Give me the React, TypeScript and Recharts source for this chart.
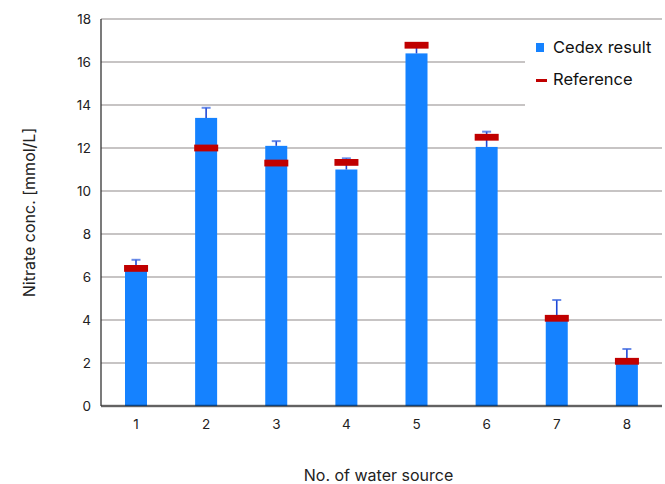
import React from 'react';
import {
  ComposedChart,
  Bar,
  Line,
  XAxis,
  YAxis,
  CartesianGrid,
  ReferenceLine,
  Legend,
} from 'recharts';

const categories = ['1', '2', '3', '4', '5', '6', '7', '8'];
const cedexResult = [6.3, 13.4, 12.1, 11.0, 16.4, 12.05, 4.0, 2.0];
const cedexErrorUp = [0.5, 0.47, 0.22, 0.52, 0.4, 0.71, 0.93, 0.65];
const referenceValues = [6.4, 12.0, 11.3, 11.33, 16.78, 12.5, 4.08, 2.08];
const yTicks = [0, 2, 4, 6, 8, 10, 12, 14, 16, 18];

const data = categories.map((c, i) => ({
  name: c,
  cedex: cedexResult[i],
  err: cedexErrorUp[i],
  ref: referenceValues[i],
}));

const FONT = 'Inter, Roboto, "Noto Sans", sans-serif';
const BLUE = '#1582FF';
const RED = '#C00000';

const BarWithError = (props: any) => {
  const { x, y, width, height, value, payload, fill } = props;
  const v = Array.isArray(value) ? value[1] - value[0] : value;
  if (!height || !v) return null;
  const pxPerUnit = height / v;
  const errTop = y - payload.err * pxPerUnit;
  const cx = x + width / 2;
  return (
    <g>
      <rect x={x} y={y} width={width} height={height} fill={fill} />
      <line x1={cx} y1={y} x2={cx} y2={errTop} stroke="#1d47d6" strokeWidth={1.6} />
      <line x1={cx - 4.5} y1={errTop} x2={cx + 4.5} y2={errTop} stroke="#3a66e0" strokeOpacity={0.75} strokeWidth={2} />
    </g>
  );
};

const RefMarker = (props: any) => {
  const { cx, cy } = props;
  if (cx == null || cy == null) return null;
  return <rect x={cx - 12} y={cy - 3.4} width={24} height={6.8} fill={RED} />;
};

const YTick = (props: any) => {
  const { x, y, payload } = props;
  return (
    <text x={x} y={y} textAnchor="end" dominantBaseline="central" fontSize={13.5} fill="#222" fontFamily={FONT}>
      {payload.value}
    </text>
  );
};

const XTick = (props: any) => {
  const { x, y, payload } = props;
  return (
    <text x={x} y={y} textAnchor="middle" dominantBaseline="hanging" fontSize={13.5} fill="#222" fontFamily={FONT}>
      {payload.value}
    </text>
  );
};

const YLabel = (props: any) => {
  const vb = props.viewBox || {};
  const cx = 29;
  const cy = (vb.y ?? 19) + (vb.height ?? 387) / 2;
  return (
    <text
      x={cx}
      y={cy}
      transform={`rotate(-90, ${cx}, ${cy})`}
      textAnchor="middle"
      dominantBaseline="central"
      fontSize={16}
      fill="#222"
      fontFamily={FONT}
    >
      Nitrate conc. [mmol/L]
    </text>
  );
};

const XLabel = (props: any) => {
  const vb = props.viewBox || {};
  const cx = (vb.x ?? 101) + (vb.width ?? 561) / 2 - 3;
  return (
    <text x={cx} y={475} textAnchor="middle" dominantBaseline="central" fontSize={16} fill="#222" fontFamily={FONT}>
      No. of water source
    </text>
  );
};

const LegendContent = () => (
  <div style={{ fontFamily: FONT, fontSize: 16.5, color: '#111', background: '#fff', width: '100%', height: '100%' }}>
    <div style={{ position: 'absolute', left: 11, top: 19, width: 8, height: 9, background: BLUE }} />
    <div style={{ position: 'absolute', left: 28, top: 13, lineHeight: '20px', whiteSpace: 'nowrap' }}>Cedex result</div>
    <div style={{ position: 'absolute', left: 11, top: 55, width: 11, height: 3, background: RED }} />
    <div style={{ position: 'absolute', left: 28, top: 45, lineHeight: '20px', whiteSpace: 'nowrap' }}>Reference</div>
  </div>
);

export default function App() {
  return (
    <div style={{ position: 'absolute', left: 0, top: 0, width: 665, height: 484, background: '#fff' }}>
      <ComposedChart
        width={665}
        height={484}
        data={data}
        margin={{ top: 19, right: 3, left: 0, bottom: 0 }}
      >
        <CartesianGrid horizontal vertical={false} stroke="#b5b1b1" strokeWidth={1.3} />
        <XAxis
          dataKey="name"
          height={78}
          axisLine={false}
          tickLine={false}
          tickSize={0}
          tickMargin={13}
          tick={<XTick />}
          label={<XLabel />}
        />
        <YAxis
          width={101}
          domain={[0, 18]}
          ticks={yTicks}
          interval={0}
          axisLine={{ stroke: '#333', strokeWidth: 1.3 }}
          tickLine={false}
          tickSize={0}
          tickMargin={10}
          tick={<YTick />}
          label={<YLabel />}
        />
        <Bar
          dataKey="cedex"
          name="Cedex result"
          fill={BLUE}
          barSize={22}
          shape={<BarWithError />}
          isAnimationActive={false}
        />
        <Line
          dataKey="ref"
          name="Reference"
          stroke="none"
          dot={<RefMarker />}
          activeDot={false}
          isAnimationActive={false}
        />
        <ReferenceLine y={0} stroke="#000" strokeOpacity={0.5} strokeWidth={2.5} />
        <Legend
          layout="vertical"
          align="center"
          verticalAlign="middle"
          content={<LegendContent />}
          wrapperStyle={{ position: 'absolute', left: 525, top: 24, width: 140, height: 88, margin: 0 }}
        />
      </ComposedChart>
    </div>
  );
}
